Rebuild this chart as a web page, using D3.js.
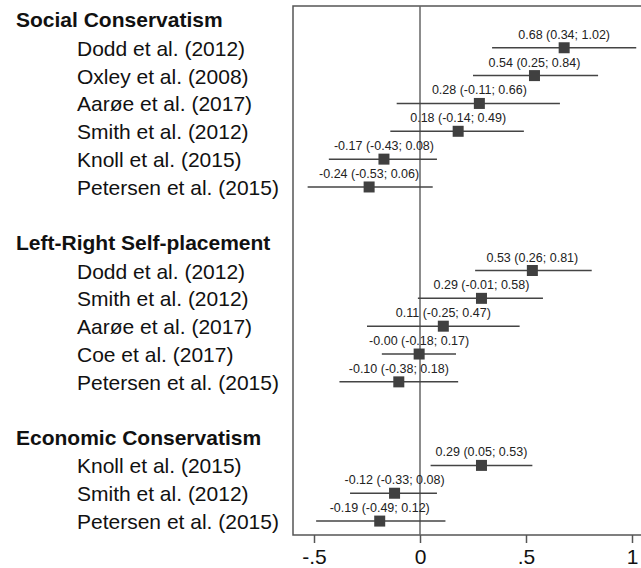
<!DOCTYPE html>
<html>
<head>
  <meta charset="utf-8" />
  <title>Forest plot</title>
  <script src="https://d3js.org/d3.v7.min.js"></script>
  <style>
    body { margin: 0; background: #fff; }
    text { font-family: "Liberation Sans", Arial, Helvetica, sans-serif; fill: #111; }
    .group-label { font-weight: bold; font-size: 21px; }
    .study-label { font-size: 21px; }
    .value-label { font-size: 12.5px; fill: #222; }
    .tick-label { font-size: 21px; }
  </style>
</head>
<body>
  <div id="chart"></div>
  <script>
    // groups and studies, top to bottom
    var groups = ["Social Conservatism", "Left-Right Self-placement", "Economic Conservatism"];

    var socialStudies = ["Dodd et al. (2012)", "Oxley et al. (2008)", "Aarøe et al. (2017)", "Smith et al. (2012)", "Knoll et al. (2015)", "Petersen et al. (2015)"];
    var socialEst = [0.68, 0.54, 0.28, 0.18, -0.17, -0.24];
    var socialLow = [0.34, 0.25, -0.11, -0.14, -0.43, -0.53];
    var socialHigh = [1.02, 0.84, 0.66, 0.49, 0.08, 0.06];

    var lrStudies = ["Dodd et al. (2012)", "Smith et al. (2012)", "Aarøe et al. (2017)", "Coe et al. (2017)", "Petersen et al. (2015)"];
    var lrEst = [0.53, 0.29, 0.11, -0.004, -0.10];
    var lrLow = [0.26, -0.01, -0.25, -0.18, -0.38];
    var lrHigh = [0.81, 0.58, 0.47, 0.17, 0.18];

    var econStudies = ["Knoll et al. (2015)", "Smith et al. (2012)", "Petersen et al. (2015)"];
    var econEst = [0.29, -0.12, -0.19];
    var econLow = [0.05, -0.33, -0.49];
    var econHigh = [0.53, 0.08, 0.12];

    var xTicks = [-0.5, 0, 0.5, 1];
    var xTickLabels = ["-.5", "0", ".5", "1"];

    // build rows: header, studies, blank spacer
    var blocks = [
      [socialStudies, socialEst, socialLow, socialHigh],
      [lrStudies, lrEst, lrLow, lrHigh],
      [econStudies, econEst, econLow, econHigh]
    ];
    var headers = [];
    var rows = [];
    var idx = 0;
    blocks.forEach(function (b, g) {
      headers.push({ name: groups[g], row: idx });
      idx++;
      b[0].forEach(function (s, i) {
        rows.push({ name: s, est: b[1][i], lo: b[2][i], hi: b[3][i], row: idx });
        idx++;
      });
      idx++;
    });

    var width = 641, height = 568;
    var plotLeft = 293, plotTop = 6, plotBottom = 535;

    var svg = d3.select("#chart").append("svg")
      .attr("width", width)
      .attr("height", height);

    var x = d3.scaleLinear().domain([-0.5, 1]).range([314, 632]);
    var y = d3.scaleLinear().domain([-0.5, 18.5]).range([plotTop, plotBottom]);

    function fmt(v) {
      return (v < 0 ? "-" : "") + Math.abs(v).toFixed(2);
    }

    // plot frame
    svg.append("rect")
      .attr("x", plotLeft)
      .attr("y", plotTop)
      .attr("width", width + 10 - plotLeft)
      .attr("height", plotBottom - plotTop)
      .attr("fill", "none")
      .attr("stroke", "#555")
      .attr("stroke-width", 1.5);

    // zero reference line
    svg.append("line")
      .attr("x1", x(0)).attr("x2", x(0))
      .attr("y1", plotTop).attr("y2", plotBottom)
      .attr("stroke", "#666")
      .attr("stroke-width", 1.5);

    // x axis
    var xAxis = d3.axisBottom(x)
      .tickValues(xTicks)
      .tickSize(8)
      .tickPadding(6)
      .tickFormat(function (d, i) { return xTickLabels[i]; });

    var axisG = svg.append("g")
      .attr("transform", "translate(0," + plotBottom + ")")
      .call(xAxis);
    axisG.select(".domain").remove();
    axisG.selectAll(".tick line").attr("stroke", "#555").attr("stroke-width", 1.5);
    axisG.selectAll(".tick text")
      .attr("class", "tick-label")
      .attr("font-size", null)
      .attr("font-family", null)
      .attr("fill", "#111");

    // group headers
    svg.selectAll(".group-label")
      .data(headers)
      .enter().append("text")
      .attr("class", "group-label")
      .attr("x", 16)
      .attr("y", function (d) { return y(d.row) + 7; })
      .text(function (d) { return d.name; });

    // study names
    svg.selectAll(".study-label")
      .data(rows)
      .enter().append("text")
      .attr("class", "study-label")
      .attr("x", 77)
      .attr("y", function (d) { return y(d.row) + 8; })
      .text(function (d) { return d.name; });

    // confidence intervals
    svg.selectAll(".ci")
      .data(rows)
      .enter().append("line")
      .attr("class", "ci")
      .attr("x1", function (d) { return x(d.lo); })
      .attr("x2", function (d) { return x(d.hi); })
      .attr("y1", function (d) { return y(d.row); })
      .attr("y2", function (d) { return y(d.row); })
      .attr("stroke", "#444")
      .attr("stroke-width", 1.5);

    // point estimates
    svg.selectAll(".est")
      .data(rows)
      .enter().append("rect")
      .attr("class", "est")
      .attr("x", function (d) { return x(d.est) - 5.5; })
      .attr("y", function (d) { return y(d.row) - 5.5; })
      .attr("width", 11)
      .attr("height", 11)
      .attr("fill", "#404040");

    // value labels
    svg.selectAll(".value-label")
      .data(rows)
      .enter().append("text")
      .attr("class", "value-label")
      .attr("x", function (d) { return x(d.est); })
      .attr("y", function (d) { return y(d.row) - 9; })
      .attr("text-anchor", "middle")
      .text(function (d) { return fmt(d.est) + " (" + fmt(d.lo) + "; " + fmt(d.hi) + ")"; });
  </script>
</body>
</html>
